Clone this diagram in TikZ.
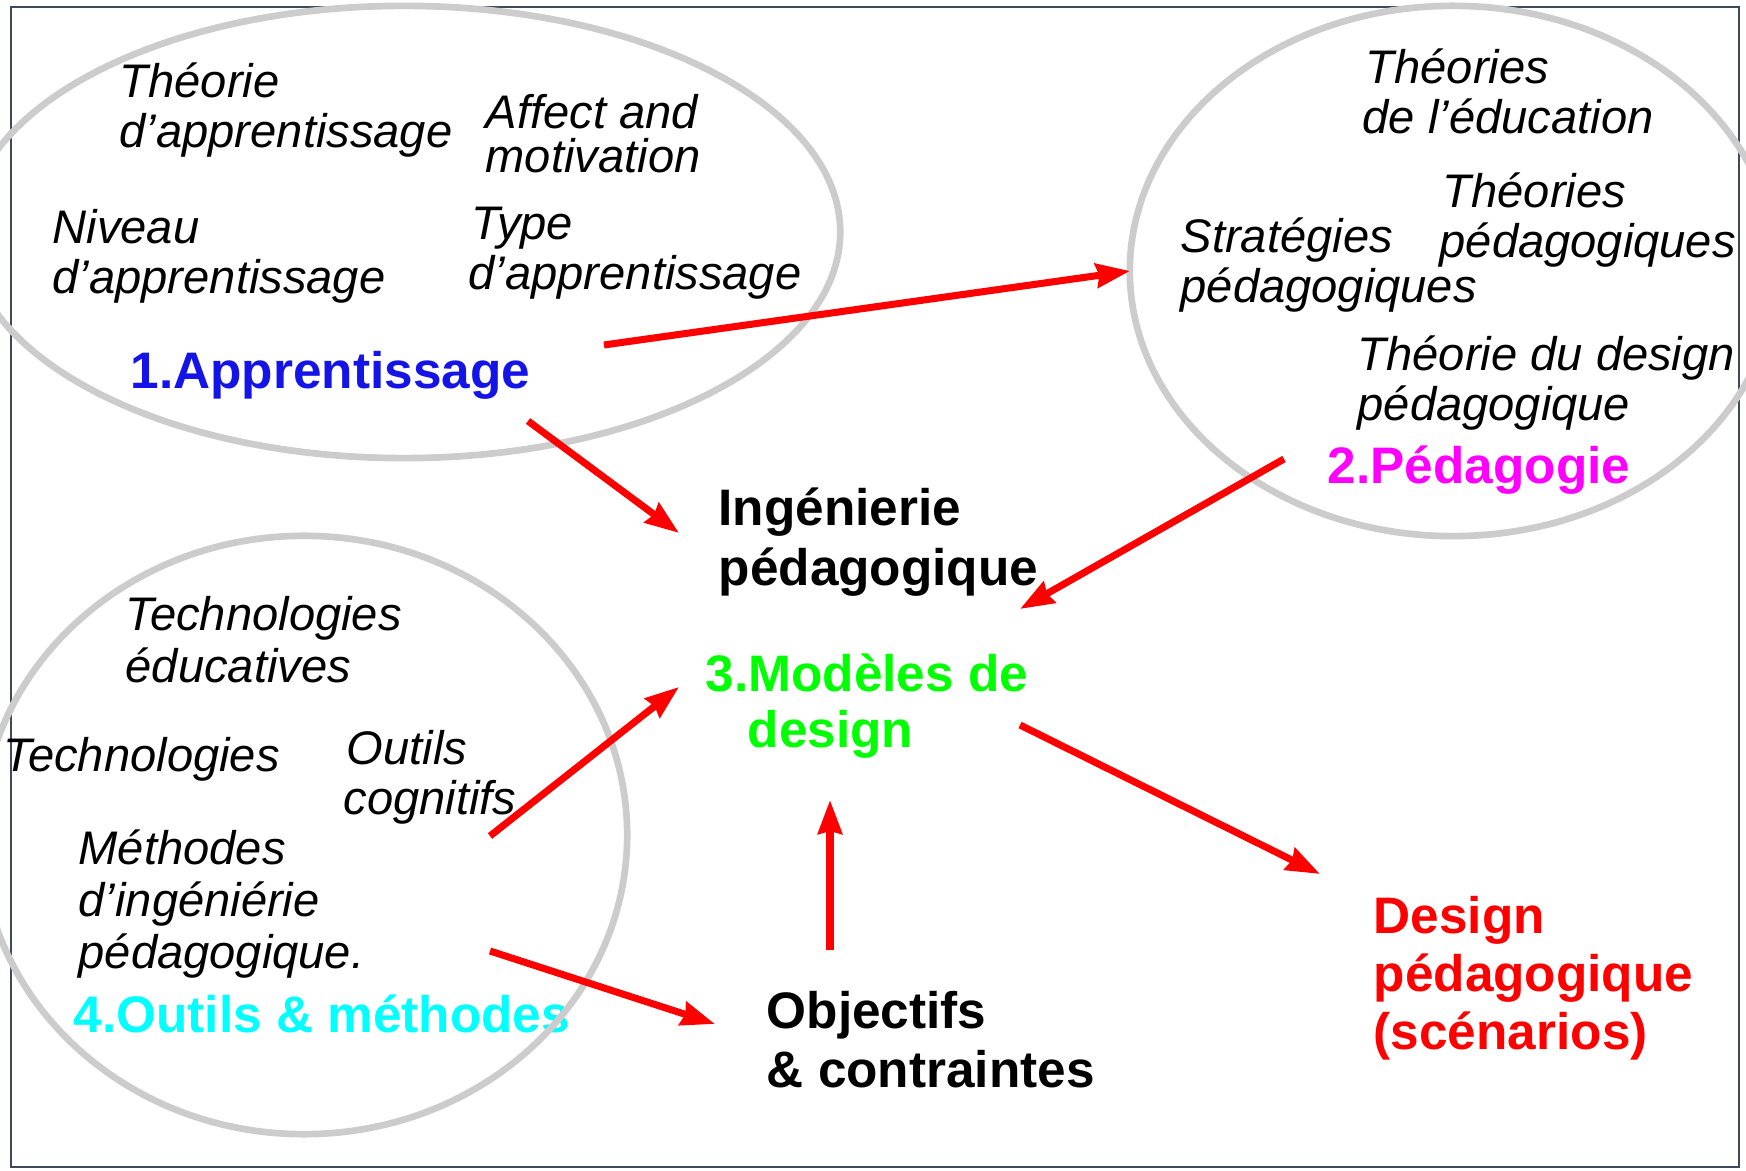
\documentclass[tikz,border=0pt]{standalone}
\usepackage{fontspec}
\setmainfont{Liberation Sans}
\usetikzlibrary{arrows.meta}
\definecolor{ringgray}{RGB}{204,204,204}
\definecolor{framecol}{RGB}{60,74,90}
\definecolor{lblue}{RGB}{20,20,230}
\definecolor{lmagenta}{RGB}{255,0,255}
\definecolor{lgreen}{RGB}{0,255,0}
\definecolor{lcyan}{RGB}{0,255,255}
\definecolor{lred}{RGB}{255,0,0}
\tikzset{
  note/.style={font=\fontsize{13.4}{14.2}\selectfont\itshape, align=left, anchor=west, inner sep=0pt},
  head/.style={font=\fontsize{14.6}{16.6}\selectfont\bfseries, align=left, anchor=west, inner sep=0pt},
  ring/.style={draw=ringgray, line width=1.9pt},
  link/.style={draw=lred, line width=2pt, -{Stealth[length=9.6pt,width=6.8pt,inset=0.8pt]}},
}
\begin{document}
\begin{tikzpicture}[x=0.01cm,y=-0.01cm]
\useasboundingbox (0,0) rectangle (1746,1171);
\clip (0,0) rectangle (1746,1171);
\fill[white] (0,0) rectangle (1746,1171);
\draw[framecol, line width=0.8pt] (11,7) rectangle (1739,1167);

% --- 1. Apprentissage
\node[note] (theoapp) at (119,110) {Théorie\\d’apprentissage};
\node[note, font=\fontsize{13.4}{12.6}\selectfont\itshape] (affect) at (485,134) {Affect and\\motivation};
\node[note] (niveau) at (52,256) {Niveau\\d’apprentissage};
\node[note] (type) at (468,253) {\hspace*{0.03cm}Type\\d’apprentissage};
\node[head, text=lblue] (apprent) at (130,375) {1.Apprentissage};

% --- 2. Pedagogie
\node[note] (theoedu) at (1362,91) {\hspace*{0.03cm}Théories\\de l’éducation};
\node[note] (theoped) at (1439,220) {\hspace*{0.03cm}Théories\\pédagogiques};
\node[note] (strat) at (1180,265) {Stratégies\\pédagogiques};
\node[note] (theodes) at (1357,383) {Théorie du design\\pédagogique};
\node[head, text=lmagenta] (pedago) at (1327,470) {2.Pédagogie};

% --- centre
\node[head, font=\fontsize{14.6}{17}\selectfont\bfseries] (ingped) at (718,542) {Ingénierie\\pédagogique};
\node[head, text=lgreen, font=\fontsize{14.6}{15.9}\selectfont\bfseries] (modeles) at (705,706) {3.Modèles de\\\hspace*{0.42cm}design};
\node[head, font=\fontsize{14.6}{16.8}\selectfont\bfseries] (objectifs) at (766,1040) {Objectifs\\\& contraintes};
\node[head, text=lred, font=\fontsize{14.6}{16.5}\selectfont\bfseries] (design) at (1373,978) {Design\\pédagogique\\(scénarios)};

% --- 4. Outils & methodes
\node[note, font=\fontsize{13.4}{14.8}\selectfont\itshape] (techedu) at (125,640) {Technologies\\éducatives};
\node[note] (techno) at (3,759) {Technologies};
\node[note] (outils) at (343,777) {\hspace*{0.03cm}Outils\\cognitifs};
\node[note, font=\fontsize{13.4}{14.8}\selectfont\itshape] (methodes) at (78,904) {Méthodes\\d’ingéniérie\\pédagogique.};
\node[head, text=lcyan] (outmeth) at (73,1014) {4.Outils \& méthodes};

% --- circles
\draw[ring] (404,232) ellipse [x radius=4.36cm, y radius=2.26cm];
\draw[ring] (1453,271) ellipse [x radius=3.23cm, y radius=2.65cm];
\draw[ring] (304,835) ellipse [x radius=3.23cm, y radius=2.99cm];

% --- arrow end points
\coordinate (a1s) at (604,345);  \coordinate (a1e) at (1130,271);
\coordinate (a2s) at (528,421);  \coordinate (a2e) at (679,533);
\coordinate (a3s) at (1284,459); \coordinate (a3e) at (1020,609);
\coordinate (a4s) at (490,836);  \coordinate (a4e) at (679,687);
\coordinate (a5s) at (490,951);  \coordinate (a5e) at (715,1024);
\coordinate (a6s) at (830,950);  \coordinate (a6e) at (830,800);
\coordinate (a7s) at (1020,725); \coordinate (a7e) at (1320,874);

\draw[link] (a1s) -- (a1e);
\draw[link] (a2s) -- (a2e);
\draw[link] (a3s) -- (a3e);
\draw[link] (a4s) -- (a4e);
\draw[link] (a5s) -- (a5e);
\draw[link] (a6s) -- (a6e);
\draw[link] (a7s) -- (a7e);
\end{tikzpicture}
\end{document}
